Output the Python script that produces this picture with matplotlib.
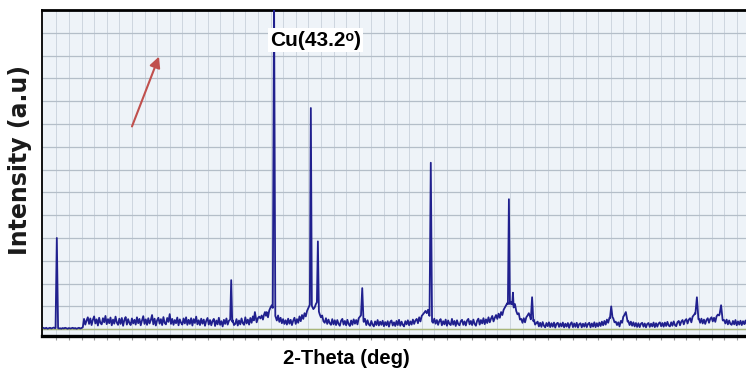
import numpy as np
import matplotlib
matplotlib.use("Agg")
import matplotlib.pyplot as plt

# background counts, one value every 0.25 deg starting at -2.5 deg
bg_start = -2.5
bg_step = 0.25
bg_y = [
    0.05, 0.03, 0.06, 0.02, 0.04, 0.06, 0.03, 0.05, 0.07, 0.04, 0.08, 0.05, 0.03, 0.04, 0.02, 0.05, 0.03, 0.06, 0.04, 0.02,
    0.05, 0.03, 0.04, 0.06, 0.03, 0.05, 0.02, 0.04, 0.06, 0.03, 0.05, 0.08,
    0.45, 0.20, 0.38, 0.52, 0.23, 0.47, 0.18, 0.41, 0.56, 0.25, 0.43, 0.16, 0.50, 0.27, 0.21, 0.48, 0.30, 0.58, 0.22, 0.44,
    0.26, 0.51, 0.17, 0.42, 0.24, 0.55, 0.29, 0.19, 0.46, 0.23, 0.49, 0.15, 0.40, 0.53, 0.20, 0.44, 0.27, 0.18, 0.47, 0.25,
    0.41, 0.20, 0.52, 0.26, 0.45, 0.17, 0.38, 0.57, 0.23, 0.43, 0.19, 0.48, 0.25, 0.40, 0.62, 0.21, 0.46, 0.16, 0.39, 0.50,
    0.24, 0.44, 0.18, 0.53, 0.27, 0.21, 0.49, 0.32, 0.66, 0.23, 0.45, 0.19, 0.40, 0.26, 0.51, 0.17, 0.43, 0.28, 0.20, 0.47,
    0.25, 0.52, 0.19, 0.41, 0.23, 0.48, 0.16, 0.44, 0.27, 0.55, 0.21, 0.39, 0.18, 0.46, 0.24, 0.42, 0.15, 0.37, 0.49, 0.20,
    0.40, 0.17, 0.36, 0.45, 0.14, 0.38, 0.21, 0.50, 0.19, 0.35, 0.12, 0.41, 0.23, 0.47, 0.20, 0.37, 0.42, 0.24, 0.39, 0.18,
    0.23, 0.44, 0.16, 0.38, 0.21, 0.47, 0.26, 0.19, 0.52, 0.25, 0.42, 0.20, 0.49, 0.28, 0.56, 0.34, 0.62, 0.30, 0.48, 0.55,
    0.47, 0.60, 0.42, 0.68, 0.48, 0.75, 0.52, 0.82, 0.95, 1.05, 0.90, 0.70, 0.55, 0.38, 0.60, 0.32, 0.50, 0.26, 0.44, 0.23,
    0.39, 0.20, 0.46, 0.24, 0.41, 0.18, 0.37, 0.50, 0.23, 0.44, 0.28, 0.56, 0.35, 0.62, 0.45, 0.70, 0.56, 0.80, 0.92, 1.05,
    1.15, 1.00, 0.88, 0.95, 1.10, 1.20, 0.85, 0.66, 0.52, 0.60, 0.35, 0.28, 0.48, 0.23, 0.42, 0.26, 0.19, 0.44, 0.21, 0.39,
    0.18, 0.40, 0.23, 0.15, 0.37, 0.45, 0.20, 0.36, 0.17, 0.41, 0.22, 0.14, 0.38, 0.19, 0.43, 0.24, 0.40, 0.21, 0.48, 0.55,
    0.62, 0.50, 0.32, 0.45, 0.18, 0.39, 0.21, 0.15, 0.36, 0.20, 0.12, 0.34, 0.18, 0.40, 0.16, 0.33, 0.19, 0.37, 0.13, 0.31,
    0.17, 0.35, 0.11, 0.32, 0.38, 0.16, 0.30, 0.14, 0.36, 0.18, 0.41, 0.15, 0.33, 0.19, 0.12, 0.35, 0.21, 0.39, 0.17, 0.34,
    0.20, 0.42, 0.23, 0.38, 0.45, 0.26, 0.52, 0.34, 0.58, 0.65, 0.72, 0.80, 0.70, 0.85, 0.60, 0.52, 0.35, 0.28, 0.46, 0.24,
    0.40, 0.19, 0.36, 0.44, 0.17, 0.35, 0.21, 0.42, 0.15, 0.38, 0.23, 0.18, 0.45, 0.20, 0.36, 0.14, 0.39, 0.22, 0.17, 0.35,
    0.41, 0.19, 0.34, 0.16, 0.38, 0.45, 0.21, 0.36, 0.18, 0.42, 0.23, 0.15, 0.37, 0.46, 0.20, 0.40, 0.25, 0.48, 0.22, 0.43,
    0.27, 0.52, 0.30, 0.46, 0.58, 0.34, 0.50, 0.62, 0.45, 0.68, 0.50, 0.75, 0.62, 0.85, 0.95, 1.05, 1.15, 1.00, 1.10, 1.20,
    1.05, 0.95, 1.10, 0.80, 0.65, 0.70, 0.42, 0.45, 0.28, 0.48, 0.30, 0.52, 0.60, 0.70, 0.55, 0.35, 0.26, 0.41, 0.20, 0.27,
    0.33, 0.12, 0.28, 0.10, 0.31, 0.15, 0.08, 0.27, 0.13, 0.30, 0.09, 0.26, 0.11, 0.29, 0.07, 0.24, 0.28, 0.10, 0.25, 0.12,
    0.29, 0.08, 0.24, 0.11, 0.27, 0.06, 0.23, 0.30, 0.09, 0.25, 0.10, 0.28, 0.07, 0.22, 0.26, 0.08, 0.24, 0.11, 0.27, 0.09,
    0.23, 0.28, 0.08, 0.25, 0.11, 0.30, 0.09, 0.26, 0.12, 0.29, 0.14, 0.33, 0.17, 0.36, 0.20, 0.42, 0.28, 0.50, 0.45, 0.55,
    0.48, 0.30, 0.33, 0.18, 0.30, 0.12, 0.36, 0.28, 0.55, 0.62, 0.50, 0.32, 0.35, 0.18, 0.33, 0.15, 0.30, 0.12, 0.27, 0.10,
    0.26, 0.09, 0.24, 0.28, 0.11, 0.25, 0.08, 0.23, 0.27, 0.10, 0.24, 0.12, 0.29, 0.09, 0.26, 0.11, 0.25, 0.30, 0.13, 0.27,
    0.11, 0.29, 0.14, 0.32, 0.16, 0.12, 0.30, 0.15, 0.34, 0.18, 0.13, 0.31, 0.36, 0.17, 0.33, 0.40, 0.21, 0.38, 0.44, 0.25,
    0.42, 0.48, 0.30, 0.55, 0.62, 0.70, 0.58, 0.42, 0.45, 0.28, 0.46, 0.25, 0.42, 0.23, 0.40, 0.48, 0.28, 0.45, 0.52, 0.34,
    0.50, 0.32, 0.56, 0.64, 0.60, 0.72, 0.55, 0.38, 0.40, 0.25, 0.42, 0.21, 0.38, 0.23, 0.19, 0.36, 0.21, 0.40, 0.17, 0.34,
    0.20, 0.37, 0.18, 0.35, 0.22, 0.38, 0.19, 0.34, 0.21, 0.36,
]

# diffraction peaks: 2-theta (deg), height (a.u), half width at foot (deg)
peak_pos = [0.1, 34.7, 39.4, 41.4, 43.2, 50.5, 51.9, 60.7, 74.3,
            89.8, 90.6, 94.4, 110.1, 113.0, 127.1, 131.9]
peak_h = [4.0, 2.15, 0.75, 0.75, 14.8, 9.7, 3.85, 1.8, 7.3,
          5.7, 1.6, 1.4, 1.0, 0.75, 1.4, 1.05]
peak_w = [0.25, 0.2, 0.2, 0.2, 0.25, 0.2, 0.2, 0.25, 0.25,
          0.2, 0.15, 0.25, 0.25, 0.35, 0.3, 0.3]

bg_x = bg_start + bg_step * np.arange(len(bg_y))
bg_y = np.array(bg_y)

keep = np.ones(len(bg_x), dtype=bool)
px, py = [], []
for p, h, w in zip(peak_pos, peak_h, peak_w):
    keep &= ~((bg_x > p - w) & (bg_x < p + w))
    px += [p - w, p, p + w]
    py += [np.interp(p - w, bg_x, bg_y), h, np.interp(p + w, bg_x, bg_y)]

x = np.concatenate([bg_x[keep], px])
y = np.concatenate([bg_y[keep], py])
order = np.argsort(x)
x, y = x[order], y[order]

W, H = 746, 373
fig = plt.figure(figsize=(W / 100, H / 100), dpi=100)
ax = fig.add_axes([42 / W, (H - 336) / H, (752 - 42) / W, (336 - 10) / H])
ax.set_facecolor("#eef3f8")

ax.plot(x, y, color="#20208e", lw=1.3, zorder=3)
ax.axhline(0.02, color="#a9b77a", lw=1.0, zorder=2)

ax.set_xlim(-2.84, -2.84 + 710 / 5.04)
ax.set_ylim(-0.3, 14.0)

ax.set_xticks(np.arange(0, 140, 2.5))
ax.set_yticks(np.arange(0, 14, 1))
ax.grid(axis="x", color="#cdd6df", lw=0.7)
ax.grid(axis="y", color="#b4bec8", lw=0.9)
ax.set_axisbelow(True)
ax.tick_params(axis="x", length=3, width=0.8, color="#9a9a9a", labelbottom=False, pad=1)
ax.tick_params(axis="y", length=0, labelleft=False)

ax.spines["right"].set_visible(False)
ax.spines["top"].set_linewidth(2.0)
ax.spines["bottom"].set_linewidth(2.4)
ax.spines["left"].set_linewidth(1.3)

arial = ["Liberation Sans", "DejaVu Sans"]
ax.set_xlabel("2-Theta (deg)", fontsize=14.5, fontweight="bold", family=arial)
ax.xaxis.set_label_coords((346 - 42) / 710, -0.04)
fig.text(20 / W, 1 - 160 / H, "Intensity (a.u)", rotation=90, fontsize=17,
         fontweight="bold", family="DejaVu Sans", color="#1a1a1a",
         ha="center", va="center")

fig.text(270 / W, 1 - 40 / H, "Cu(43.2ᵒ)", fontsize=15, fontweight="bold",
         family=arial, ha="left", va="center",
         bbox=dict(facecolor="white", edgecolor="none", pad=1.5))

ax.annotate("", xy=(160, H - 54), xytext=(131, H - 129),
            xycoords="figure pixels", textcoords="figure pixels",
            arrowprops=dict(arrowstyle="-|>", color="#c0504d", lw=1.5,
                            mutation_scale=16))

fig.savefig("out.png", dpi=100)
